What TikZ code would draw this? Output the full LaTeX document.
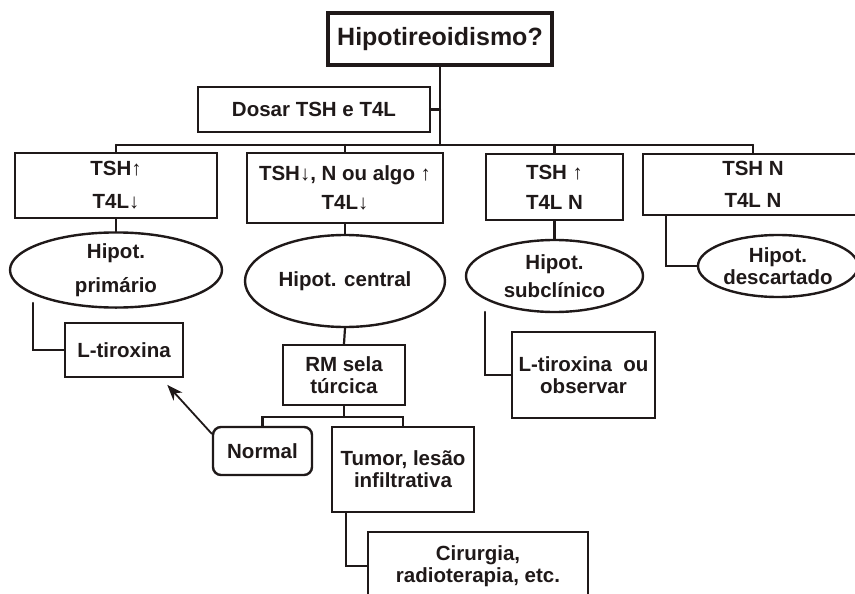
\documentclass[tikz,border=0pt]{standalone}
\usepackage{fontspec}
\setmainfont{Liberation Sans}
\usetikzlibrary{arrows.meta,shapes.geometric}
\definecolor{inkA}{rgb}{0.12,0.10,0.10}

\begin{document}
\begin{tikzpicture}[x=1pt, y=-1pt, line cap=round,
  txt/.style={font=\fontsize{20.5}{22}\selectfont\bfseries, text=inkA, align=center, inner sep=0pt},
  box/.style={txt, draw=inkA, line width=2.4pt},
  oval/.style={txt, draw=inkA, line width=2.4pt, ellipse},
  link/.style={draw=inkA, line width=2.2pt}]
\useasboundingbox (0,0) rectangle (855,594);
\clip (0,0) rectangle (855,594);
% ---------- topo ----------
\node[box, line width=3.4pt, minimum width=224, minimum height=52,
  font=\fontsize{25}{28}\selectfont\bfseries] (title) at (440,39) {Hipotireoidismo?};
\node[box, minimum width=232, minimum height=45] (dosar) at (314,109.5) {Dosar TSH e T4L};
\coordinate (bar) at (440,145);
\draw[link] (title.south) -- (title.south |- bar);
\draw[link] (dosar.east) -- (dosar.east -| title.south);
% ---------- resultados ----------
\node[box, minimum width=202, minimum height=65] (b1) at (116,185.5) {TSH↑\\[11pt]T4L↓};
\node[box, minimum width=196, minimum height=70] (b2) at (345,188) {TSH↓, N ou algo ↑\\[7pt]T4L↓};
\node[box, minimum width=137, minimum height=66] (b3) at (554.5,187) {TSH ↑\\[8pt]T4L N};
\node[box, minimum width=220, minimum height=61] (b4) at (753,184.5) {TSH N\\[10pt]T4L N};
\draw[link] (b1.north |- bar) -- (b4.north |- bar);
\foreach \n in {b1,b2,b3,b4}
  \draw[link] (\n.north |- bar) -- (\n.north);
% ---------- diagnosticos ----------
\node[oval, minimum width=212, minimum height=66] (e1) at (116,270) {Hipot.\\[12pt]primário};
\node[oval, minimum width=200, minimum height=92] (e2) at (345,281) {Hipot. central};
\node[oval, minimum width=177, minimum height=72] (e3) at (554.5,276) {Hipot.\\[6pt]subclínico};
\node[oval, minimum width=160, minimum height=62] (e4) at (778,266) {Hipot.\\descartado};
\draw[link] (b1.south) -- (e1.north);
\draw[link] (b2.south) -- (e2.north);
\draw[link] (b3.south) -- (e3.north);
\draw[link] ([xshift=24pt]b4.south west) |- (e4.west);
% ---------- condutas ----------
\node[box, minimum width=118, minimum height=54] (lt1) at (124,350) {L-tiroxina};
\node[box, minimum width=143, minimum height=86] (lt2) at (583.5,375) {L-tiroxina~ ou\\observar};
\coordinate (s1) at (33,303);
\coordinate (s3) at (485,312);
\draw[link] (s1) |- (lt1.west);
\draw[link] (s3) |- (lt2.west);
% ---------- central ----------
\node[box, minimum width=122, minimum height=60] (rm) at (344,375) {RM sela\\túrcica};
\node[box, rounded corners=8pt, minimum width=99, minimum height=48] (normal) at (262.5,451) {Normal};
\node[box, minimum width=142, minimum height=85] (tumor) at (403,469.5) {Tumor, lesão\\infiltrativa};
\node[box, minimum width=220, minimum height=68] (cir) at (478,566) {Cirurgia,\\radioterapia, etc.};
\coordinate (rmfork) at (344,417);
\draw[link] (e2.south) -- (rm.north);
\draw[link] (rm.south) -- (rmfork);
\draw[link] (normal.north) |- (rmfork) -| (tumor.north);
\draw[link] ([xshift=15pt]tumor.south west) |- (cir.west);
\draw[link, line width=1.8pt, -{Stealth[length=16pt,width=12pt]}, shorten >=9pt]
  ([yshift=-8pt]normal.north west) -- ([xshift=-23pt]lt1.south east);
\end{tikzpicture}
\end{document}
